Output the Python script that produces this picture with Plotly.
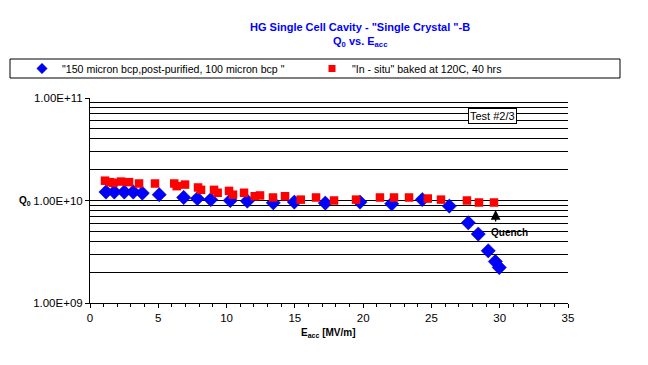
import math
import plotly.graph_objects as go

# Series 1: "150 micron bcp,post-purified, 100 micron bcp "
e_blue = [1.17, 1.78, 2.51, 3.17, 3.83, 5.07, 6.86, 7.86, 8.84, 10.27, 11.52, 13.42,
          14.96, 17.23, 19.77, 22.09, 24.33, 26.31, 27.70, 28.43, 29.16, 29.68, 29.97]
q_blue = [1.21e10, 1.21e10, 1.21e10, 1.21e10, 1.18e10, 1.14e10, 1.07e10, 1.045e10, 1.02e10, 1.0e10, 0.987e10, 0.95e10,
          0.965e10, 0.943e10, 0.965e10, 0.928e10, 1.02e10, 0.882e10, 6.06e9, 4.7e9, 3.23e9, 2.54e9, 2.22e9]

# Series 2: "In - situ" baked at 120C, 40 hrs
e_red = [1.10, 1.46, 1.71, 2.27, 2.86, 3.59, 4.76, 6.17, 6.35, 6.96, 7.91, 8.13, 9.08, 9.35, 10.18, 10.47,
         11.28, 12.06, 12.45, 13.40, 14.28, 15.43, 16.55, 17.87, 19.48, 21.23, 22.26, 23.36, 24.73, 25.70,
         27.60, 28.48, 29.58]
q_red = [1.56e10, 1.51e10, 1.49e10, 1.53e10, 1.51e10, 1.465e10, 1.465e10, 1.465e10, 1.38e10, 1.43e10, 1.34e10,
         1.27e10, 1.27e10, 1.19e10, 1.24e10, 1.14e10, 1.19e10, 1.10e10, 1.12e10, 1.07e10, 1.10e10, 1.02e10,
         1.07e10, 1.0e10, 1.02e10, 1.07e10, 1.07e10, 1.07e10, 1.045e10, 1.02e10, 1.0e10, 0.956e10, 0.956e10]

name_blue = '"150 micron bcp,post-purified, 100 micron bcp "'
name_red = '"In - situ" baked at 120C, 40 hrs'

y_ticks = [1e9, 1e10, 1e11]
y_ticklabels = ["1.00E+09", "1.00E+10", "1.00E+11"]
y_grid = [m * 10 ** p for p in (9, 10) for m in range(2, 10)] + [1e10, 1e11]

quench_e, quench_q = 29.7, 8.1e9

FONT = "Liberation Sans, Arial, sans-serif"

# plot area in page pixels: x 90..568, y 98..303 (page has an 8px body margin)
def px(xp):
    return (xp - 90) / 478

def py(yp):
    return (303 - yp) / 205

fig = go.Figure()
fig.add_trace(go.Scatter(x=e_blue, y=q_blue, mode="markers", name=name_blue, showlegend=False,
                         marker=dict(symbol="diamond", size=11, color="#0000FF",
                                     line=dict(width=0.5, color="#000080"))))
fig.add_trace(go.Scatter(x=e_red, y=q_red, mode="markers", name=name_red, showlegend=False,
                         marker=dict(symbol="square", size=8.5, color="#FF0000", line=dict(width=0))))
# legend-only entries (smaller symbols, as in the original legend)
fig.add_trace(go.Scatter(x=[None], y=[None], mode="markers", name=name_blue, legend="legend",
                         marker=dict(symbol="diamond", size=8, color="#0000FF",
                                     line=dict(width=0.5, color="#000080"))))
fig.add_trace(go.Scatter(x=[None], y=[None], mode="markers", name=name_red, legend="legend2",
                         marker=dict(symbol="square", size=7, color="#FF0000", line=dict(width=0))))

leg_common = dict(orientation="h", xanchor="left", yanchor="middle", bgcolor="rgba(0,0,0,0)",
                  itemwidth=30, font=dict(family=FONT, size=10.6))

fig.update_layout(
    width=640, height=357,
    margin=dict(l=82, r=80, t=90, b=62, autoexpand=False),
    paper_bgcolor="white", plot_bgcolor="white",
    font=dict(family=FONT, size=11, color="black"),
    showlegend=True,
    legend=dict(x=px(22), y=py(68.5), **leg_common),
    legend2=dict(x=px(312), y=py(68.5), **leg_common),
    xaxis=dict(range=[0, 35], dtick=5, showgrid=False, zeroline=False,
               showline=True, linecolor="black", linewidth=1,
               ticks="outside", ticklen=4, tickcolor="black",
               minor=dict(dtick=1, ticks="outside", ticklen=3, tickcolor="black"),
               tickfont=dict(family=FONT, size=11.5)),
    yaxis=dict(type="log", range=[9, 11], showgrid=False, zeroline=False,
               showline=True, linecolor="black", linewidth=1,
               tickvals=y_ticks, ticktext=y_ticklabels,
               ticks="outside", ticklen=4, tickcolor="black",
               minor=dict(tickvals=y_grid, showgrid=True, gridcolor="black", gridwidth=1, ticks=""),
               tickfont=dict(family=FONT, size=11.5)),
)

# legend frame
fig.add_shape(type="rect", xref="paper", yref="paper", x0=px(10), x1=px(620), y0=py(78), y1=py(59),
              line=dict(color="black", width=1), fillcolor="rgba(0,0,0,0)")

anns = [
    dict(text="HG Single Cell Cavity - \"Single Crystal \"-B", x=px(360), y=py(27),
         font=dict(family=FONT, size=11, color="#0000FF", weight="bold")),
    dict(text="Q<sub>0</sub> vs. E<sub>acc</sub>", x=px(360), y=py(42),
         font=dict(family=FONT, size=11, color="#0000FF", weight="bold")),
    dict(text="Q<sub>0</sub>", x=px(25), y=py(201),
         font=dict(family=FONT, size=10, color="black", weight="bold")),
    dict(text="E<sub>acc</sub> [MV/m]", x=px(328), y=py(333),
         font=dict(family=FONT, size=10, color="black", weight="bold")),
    dict(text="Test #2/3", x=px(492), y=py(116),
         font=dict(family=FONT, size=11, color="black"),
         bordercolor="black", borderwidth=1, borderpad=1, bgcolor="white"),
    dict(text="Quench", x=px(509), y=py(232),
         font=dict(family=FONT, size=10, color="black", weight="bold")),
]
for a in anns:
    fig.add_annotation(xref="paper", yref="paper", showarrow=False, xanchor="center", yanchor="middle", **a)

fig.add_annotation(x=quench_e, y=math.log10(quench_q), yref="y", xref="x", text=" ", showarrow=True,
                   ax=0, ay=14, arrowhead=2, arrowsize=1.5, arrowwidth=1.3, arrowcolor="black",
                   font=dict(size=2))

fig.write_html("out.html")
